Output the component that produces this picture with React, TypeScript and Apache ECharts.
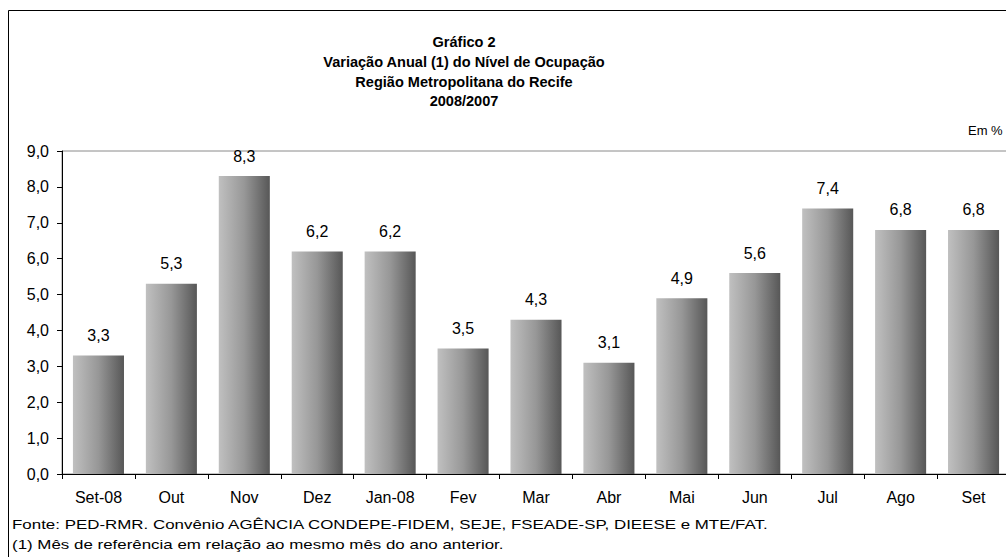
import React, { useEffect, useRef } from "react";
import * as echarts from "echarts";

const categories = ["Set-08", "Out", "Nov", "Dez", "Jan-08", "Fev", "Mar", "Abr", "Mai", "Jun", "Jul", "Ago", "Set"];
const values = [3.3, 5.3, 8.3, 6.2, 6.2, 3.5, 4.3, 3.1, 4.9, 5.6, 7.4, 6.8, 6.8];
const titleLines = [
  "Gráfico 2",
  "Variação Anual (1) do Nível de Ocupação",
  "Região Metropolitana do Recife",
  "2008/2007",
];
const unitLabel = "Em %";
const footnotes = [
  "Fonte: PED-RMR. Convênio AGÊNCIA CONDEPE-FIDEM, SEJE, FSEADE-SP, DIEESE e MTE/FAT.",
  "(1) Mês de referência em relação ao mesmo mês do ano anterior.",
];

const FONT = "'Liberation Sans', Arial, sans-serif";

export default function App() {
  const ref = useRef<HTMLDivElement>(null);
  useEffect(() => {
    if (!ref.current) return;
    const chart = echarts.init(ref.current, undefined, { renderer: "svg" });
    const fmt = (v: number) => v.toFixed(1).replace(".", ",");
    chart.setOption({
      animation: false,
      backgroundColor: "#ffffff",
      textStyle: { fontFamily: FONT },
      grid: {
        left: 62,
        top: 151,
        bottom: 83,
        right: 10,
        show: true,
        borderColor: "#8a8a8a",
        borderWidth: 1,
        backgroundColor: "transparent",
      },
      xAxis: {
        type: "category",
        data: categories,
        axisLine: { lineStyle: { color: "#000", width: 1 } },
        axisTick: { show: true, length: 5, lineStyle: { color: "#000" } },
        axisLabel: { color: "#000", fontSize: 16, fontFamily: FONT, margin: 15 },
      },
      yAxis: {
        type: "value",
        min: 0,
        max: 9,
        interval: 1,
        axisLine: { show: true, lineStyle: { color: "#000", width: 1 } },
        axisTick: { show: true, length: 5, lineStyle: { color: "#000" } },
        splitLine: { show: false },
        axisLabel: {
          color: "#000",
          fontSize: 16,
          fontFamily: FONT,
          margin: 13,
          formatter: (v: number) => fmt(v),
        },
      },
      series: [
        {
          type: "bar",
          data: values,
          barCategoryGap: "30%",
          itemStyle: {
            color: new echarts.graphic.LinearGradient(0, 0, 1, 0, [
              { offset: 0, color: "#c0c0c0" },
              { offset: 0.5, color: "#979797" },
              { offset: 1, color: "#575757" },
            ]),
          },
          label: {
            show: true,
            position: "top",
            distance: 12,
            color: "#000",
            fontSize: 16,
            fontFamily: FONT,
            formatter: (p: any) => fmt(p.value),
          },
        },
      ],
      graphic: [
        {
          type: "rect",
          shape: { x: 8.5, y: 10.5, width: 1100, height: 600 },
          style: { fill: "none", stroke: "#000", lineWidth: 1 },
          silent: true,
          z: 0,
        },
        ...titleLines.map((t, i) => ({
          type: "text",
          x: 464,
          y: 42 + i * 19.8,
          scaleX: 1.04,
          style: {
            text: t,
            fill: "#000",
            font: `bold 14px ${FONT}`,
            textAlign: "center",
            textVerticalAlign: "middle",
          },
        })),
        {
          type: "text",
          x: 968,
          y: 130,
          style: {
            text: unitLabel,
            fill: "#000",
            font: `13px ${FONT}`,
            textAlign: "left",
            textVerticalAlign: "middle",
          },
        },
        ...footnotes.map((t, i) => ({
          type: "text",
          x: 12,
          y: 525 + i * 20,
          scaleX: 1.41,
          style: {
            text: t,
            fill: "#000",
            font: `12px ${FONT}`,
            textAlign: "left",
            textVerticalAlign: "middle",
          },
        })),
      ],
    });
    return () => chart.dispose();
  }, []);
  return (
    <div style={{ position: "absolute", left: 0, top: 0, width: 1006, height: 557, overflow: "hidden" }}>
      <div ref={ref} style={{ width: 1020, height: 557 }} />
    </div>
  );
}
